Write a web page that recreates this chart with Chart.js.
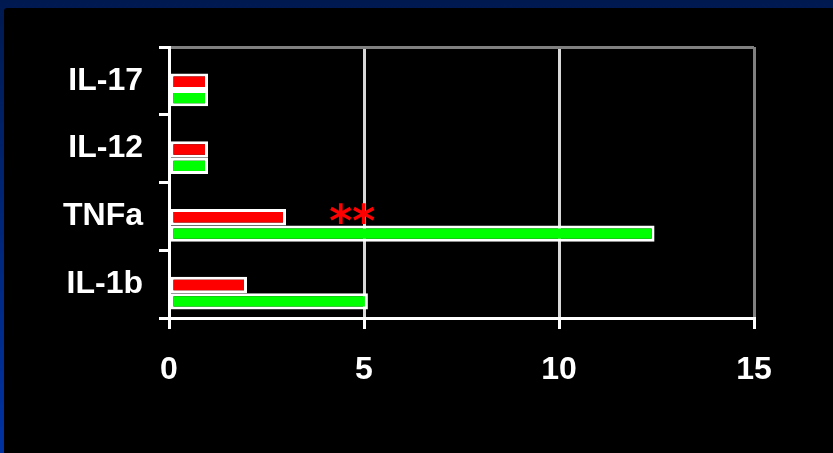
<!DOCTYPE html>
<html>
<head>
<meta charset="utf-8">
<script src="https://cdn.jsdelivr.net/npm/chart.js@4"></script>
<style>
  html, body {
    margin: 0;
    padding: 0;
    width: 833px;
    height: 453px;
    overflow: hidden;
    background: linear-gradient(#001a50, #0032a2);
  }
  #panel {
    position: absolute;
    left: 4px;
    top: 8px;
    width: 829px;
    height: 445px;
    background: #000;
    border-top-left-radius: 3px;
  }
  #cytoChart {
    display: block;
  }
</style>
</head>
<body>
<div id="panel">
  <canvas id="cytoChart" width="829" height="445"></canvas>
</div>
<script>
const cytokines = ['IL-17', 'IL-12', 'TNFa', 'IL-1b'];
const redValues = [1, 1, 3, 2];
const greenValues = [1, 1, 12.45, 5.1];
const xTicks = [0, 5, 10, 15];

// significance mark over the TNFa pair
const sigText = '**';
const sigRow = 2;
const sigValue = 4.7;

const labelFont = { family: "'Liberation Sans', Arial, sans-serif", size: 32, weight: 'bold' };

// bars sit a little under the middle of each category band
const barShift = {
    id: 'barShift',
    beforeDatasetsDraw(chart) {
        chart.ctx.save();
        chart.ctx.translate(0, 9);
    },
    afterDatasetsDraw(chart) {
        const ctx = chart.ctx;
        const bar = chart.getDatasetMeta(0).data[sigRow];
        const x = chart.scales.x.getPixelForValue(sigValue);
        ctx.fillStyle = '#ff0000';
        ctx.font = "bold 44px 'DejaVu Sans'";
        ctx.textAlign = 'center';
        ctx.textBaseline = 'alphabetic';
        ctx.fillText(sigText, x, bar.y - 5 + 24);
        ctx.restore();
    }
};

new Chart(document.getElementById('cytoChart'), {
    type: 'bar',
    data: {
        labels: cytokines,
        datasets: [
            {
                data: redValues,
                backgroundColor: '#ff0000',
                borderColor: '#ffffff',
                borderWidth: 3,
                borderSkipped: false
            },
            {
                data: greenValues,
                backgroundColor: '#00ff00',
                borderColor: '#ffffff',
                borderWidth: 3,
                borderSkipped: false
            }
        ]
    },
    options: {
        indexAxis: 'y',
        responsive: false,
        animation: false,
        layout: { padding: { top: 39, right: 79, left: 0, bottom: 0 } },
        datasets: {
            bar: { barPercentage: 1, categoryPercentage: 0.48 }
        },
        plugins: {
            legend: { display: false },
            tooltip: { enabled: false }
        },
        scales: {
            x: {
                min: 0,
                max: 15,
                afterBuildTicks: scale => {
                    scale.ticks = xTicks.map(v => ({ value: v }));
                },
                afterFit: scale => { scale.height = 135; },
                border: { color: '#ffffff', width: 3 },
                grid: {
                    color: ctx => ctx.index === 3 ? '#808080' : '#d8d8d8',
                    lineWidth: 3,
                    tickColor: '#ffffff',
                    tickLength: 11
                },
                ticks: {
                    color: '#ffffff',
                    font: labelFont,
                    padding: 22,
                    maxRotation: 0
                }
            },
            y: {
                afterFit: scale => { scale.width = 165; },
                border: { color: '#ffffff', width: 3 },
                grid: {
                    offset: true,
                    color: ctx => ctx.index === 0 ? '#808080' : 'rgba(0,0,0,0)',
                    lineWidth: 3,
                    tickColor: '#ffffff',
                    tickLength: 10
                },
                ticks: {
                    color: '#ffffff',
                    font: labelFont,
                    padding: 16
                }
            }
        }
    },
    plugins: [barShift]
});
</script>
</body>
</html>
